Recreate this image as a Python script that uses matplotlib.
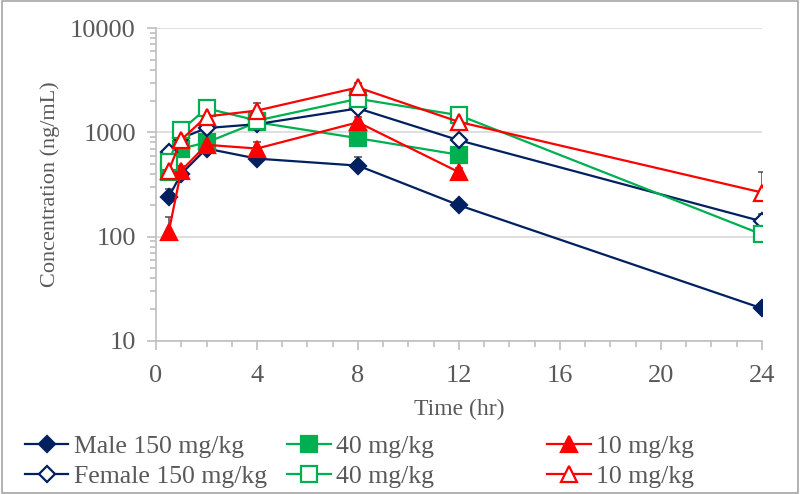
import matplotlib
matplotlib.use("Agg")
import matplotlib.pyplot as plt
from matplotlib.ticker import LogLocator, FixedLocator, NullFormatter

plt.rcParams['font.family'] = ['Liberation Serif', 'DejaVu Serif']

time = [0.5, 1, 2, 4, 8, 12, 24]

# mean concentrations (ng/mL); None = not measured
male_150 = [240, 400, 700, 560, 480, 200, 20.5]
male_40 = [420, 700, 800, 1250, 880, 610, None]
male_10 = [110, 430, 760, 700, 1250, 415, None]
female_150 = [650, 880, 1100, 1200, 1700, 840, 140]
female_40 = [520, 1050, 1700, 1300, 2100, 1460, 105]
female_10 = [430, 850, 1420, 1620, 2700, 1260, 265]

# upper error (SD)
male_150_err = [45, 40, 70, 60, 95, 20, 2]
male_40_err = [40, 60, 80, 120, 90, 60, None]
male_10_err = [45, 50, 80, 110, 170, 40, None]
female_150_err = [60, 80, 100, 110, 150, 70, 25]
female_40_err = [50, 110, 350, 130, 200, 170, 10]
female_10_err = [40, 90, 140, 300, 250, 150, 150]

labels = ['Male 150 mg/kg', '40 mg/kg', '10 mg/kg',
          'Female 150 mg/kg', '40 mg/kg', '10 mg/kg']

navy = '#002060'
green = '#00B050'
red = '#FF0000'
grey = '#595959'

fig = plt.figure(figsize=(8, 4.94), dpi=100)
ax = fig.add_axes([0.195, 0.31, 0.7575, 0.633])


def series(y, err, color, marker, ms, filled, label):
    t = [a for a, b in zip(time, y) if b is not None]
    v = [b for b in y if b is not None]
    e = [b for b in err if b is not None]
    ax.errorbar(t, v, yerr=[[0] * len(e), e], fmt='none', ecolor=grey,
                elinewidth=1.2, capsize=3, capthick=1.2, zorder=2)
    line, = ax.plot(t, v, color=color, lw=1.6, marker=marker, ms=ms,
                    mfc=color if filled else 'white', mec=color, mew=1.6,
                    label=label, zorder=3)
    return line


h1 = series(male_150, male_150_err, navy, 'D', 8, True, labels[0])
h2 = series(male_40, male_40_err, green, 's', 11, True, labels[1])
h3 = series(male_10, male_10_err, red, '^', 11, True, labels[2])
h4 = series(female_150, female_150_err, navy, 'D', 8, False, labels[3])
h5 = series(female_40, female_40_err, green, 's', 11, False, labels[4])
h6 = series(female_10, female_10_err, red, '^', 11, False, labels[5])

ax.set_yscale('log')
ax.set_ylim(10, 10000)
ax.set_xlim(0, 24)
ax.set_xticks(range(0, 25, 4))
ax.xaxis.set_minor_locator(FixedLocator(range(0, 25)))
ax.yaxis.set_major_locator(FixedLocator([10, 100, 1000, 10000]))
ax.set_yticklabels(['10', '100', '1000', '10000'])
ax.yaxis.set_minor_locator(LogLocator(base=10, subs=range(2, 10)))
ax.yaxis.set_minor_formatter(NullFormatter())

ax.grid(axis='y', which='major', color='#D9D9D9', lw=1.2, zorder=0)
for s in ['top', 'right']:
    ax.spines[s].set_visible(False)
for s in ['left', 'bottom']:
    ax.spines[s].set_color('#BFBFBF')
    ax.spines[s].set_linewidth(1.2)
ax.tick_params(which='both', colors='#BFBFBF', labelcolor=grey, labelsize=19)
ax.tick_params(which='major', length=6.5, width=1.2)
ax.tick_params(which='minor', length=4, width=1.2)
ax.tick_params(axis='y', which='major', pad=8)
ax.tick_params(axis='x', which='major', pad=11)

ax.set_xlabel('Time (hr)', fontsize=17, color=grey, va='top')
ax.xaxis.set_label_coords(0.5, -0.185)
ax.set_ylabel('Concentration (ng/mL)', fontsize=16, color=grey)
ax.yaxis.set_label_coords(-0.158, 0.5)

kw = dict(frameon=False, fontsize=18.5, labelcolor=grey, handlelength=1.7,
          handletextpad=0.2, labelspacing=0.29, borderaxespad=0, borderpad=0)
fig.legend([h1, h4], [labels[0], labels[3]], loc='upper left',
           bbox_to_anchor=(0.031, 0.12), **kw)
fig.legend([h2, h5], [labels[1], labels[4]], loc='upper left',
           bbox_to_anchor=(0.359, 0.12), **kw)
fig.legend([h3, h6], [labels[2], labels[5]], loc='upper left',
           bbox_to_anchor=(0.684, 0.12), **kw)

fig.patches.append(plt.Rectangle((0.002, 0.002), 0.996, 0.996, transform=fig.transFigure,
                                 fill=False, edgecolor='#A6A6A6', lw=1.2))

fig.savefig('out.png', dpi=100)
